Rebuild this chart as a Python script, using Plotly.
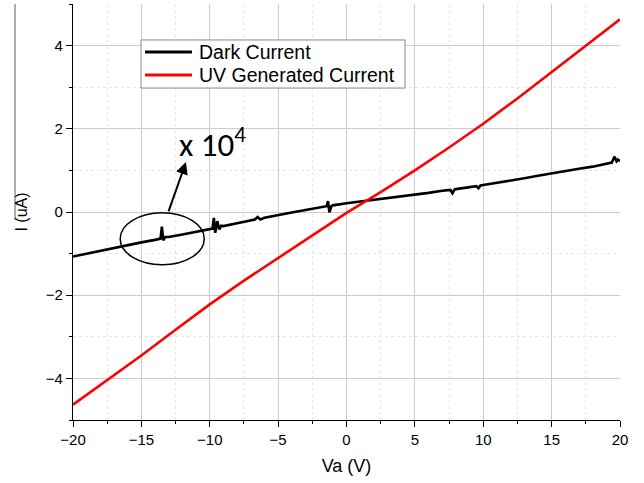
import plotly.graph_objects as go

# Dark current (black) readings, Va in V, I in uA (scaled x1e4)
dark_v = [-20, -19, -18, -17, -16, -15, -14, -13.6, -13.5, -13.4, -13.25, -13, -12, -11, -10,
          -9.8, -9.7, -9.6, -9.45, -9.3, -9.15, -9, -8, -7, -6.7, -6.5, -6.3, -6, -5, -4, -3, -2,
          -1.45, -1.35, -1.25, -1.1, -1, 0, 1, 2, 3, 4, 5, 6, 7, 7.6, 7.75, 7.9, 8, 9, 9.5, 9.65,
          9.8, 10, 11, 12, 13, 14, 15, 16, 17, 18, 19, 19.4, 19.6, 19.75, 19.85, 20]
dark_i = [-1.07, -1.0, -0.94, -0.87, -0.80, -0.73, -0.67, -0.64, -0.35, -0.68, -0.60, -0.60, -0.54,
          -0.47, -0.41, -0.40, -0.14, -0.50, -0.22, -0.42, -0.33, -0.34, -0.27, -0.21, -0.18, -0.12,
          -0.18, -0.14, -0.07, -0.01, 0.05, 0.10, 0.14, 0.26, -0.01, 0.14, 0.16, 0.21, 0.25, 0.29,
          0.33, 0.37, 0.41, 0.46, 0.51, 0.53, 0.45, 0.54, 0.55, 0.60, 0.62, 0.57, 0.64, 0.65, 0.70,
          0.76, 0.81, 0.87, 0.93, 0.98, 1.04, 1.09, 1.15, 1.19, 1.33, 1.22, 1.26, 1.22]

# UV generated current (red)
uv_v = [-20, -17.5, -15, -12.5, -10, -7.5, -5, -2.5, 0, 2.5, 5, 7.5, 10, 12.5, 15, 17.5, 20]
uv_i = [-4.63, -4.04, -3.45, -2.83, -2.22, -1.65, -1.1, -0.56, -0.02, 0.48, 1.0, 1.55, 2.12,
        2.73, 3.36, 3.99, 4.63]

series_names = ["Dark Current", "UV Generated Current"]
series_colors = ["black", "#ff0000"]

x_ticks = [-20, -15, -10, -5, 0, 5, 10, 15, 20]
y_ticks = [-4, -2, 0, 2, 4]

fig = go.Figure()
fig.add_trace(go.Scatter(x=dark_v, y=dark_i, mode="lines", name=series_names[0],
                         line=dict(color=series_colors[0], width=2.6), showlegend=False))
fig.add_trace(go.Scatter(x=uv_v, y=uv_i, mode="lines", name=series_names[1],
                         line=dict(color=series_colors[1], width=2.6), showlegend=False))

axis_common = dict(
    showline=True, linecolor="black", linewidth=1.3,
    ticks="outside", ticklen=6, tickwidth=1.3, tickcolor="black",
    showgrid=True, gridcolor="#cccccc", gridwidth=1,
    zeroline=False, mirror=False,
    tickfont=dict(family="Arial, Liberation Sans", size=15, color="black"),
)

fig.update_xaxes(**axis_common, range=[-20, 20], tickvals=x_ticks,
                 minor=dict(dtick=2.5, tick0=0, ticklen=3, tickwidth=1.3, tickcolor="black",
                            ticks="outside", showgrid=True, gridcolor="#e6e6e6", griddash="dot"),
                 title=dict(text="Va (V)", font=dict(family="Arial, Liberation Sans", size=18,
                                                      color="black"), standoff=12))
fig.update_yaxes(**axis_common, range=[-5, 5], tickvals=y_ticks,
                 minor=dict(dtick=1, tick0=0, ticklen=3, tickwidth=1.3, tickcolor="black",
                            ticks="outside", showgrid=True, gridcolor="#e6e6e6", griddash="dot"),
                 title=dict(text="I (uA)", font=dict(family="Arial, Liberation Sans", size=16,
                                                      color="black"), standoff=14))

# legend box drawn manually (compact, like the original)
fig.add_shape(type="rect", xref="paper", yref="paper", x0=0.1243, x1=0.6069, y0=0.798,
              y1=0.9135, line=dict(color="#888888", width=1), fillcolor="white", layer="above")
row_y = [0.8846, 0.8293]
for name, color, ry in zip(series_names, series_colors, row_y):
    fig.add_shape(type="line", xref="paper", yref="paper", x0=0.1316, x1=0.2175, y0=ry, y1=ry,
                  line=dict(color=color, width=3), layer="above")
    fig.add_annotation(x=0.2267, y=ry, xref="paper", yref="paper", xanchor="left",
                       yanchor="middle", showarrow=False, text=name,
                       font=dict(family="Arial, Liberation Sans", size=19.5, color="black"))

# ellipse around highlighted region
fig.add_shape(type="circle", xref="x", yref="y", x0=-16.55, x1=-10.4, y0=-1.27, y1=-0.02,
              line=dict(color="black", width=1.5))
# arrow
fig.add_annotation(x=-11.74, y=1.2, ax=-13.05, ay=-0.02, xref="x", yref="y", axref="x",
                   ayref="y", showarrow=True, arrowhead=2, arrowsize=1.2, arrowwidth=2,
                   arrowcolor="black", text="")
fig.add_annotation(x=-9.8, y=1.68, xref="x", yref="y", showarrow=False,
                   text="x 10<sup>4</sup>",
                   font=dict(family="Carlito, Liberation Sans", size=33, color="black"))
# left border artifact line
fig.add_shape(type="line", xref="paper", yref="paper", x0=-0.106, x1=-0.106, y0=0.48, y1=1.0,
              line=dict(color="#777777", width=1.2))

fig.update_layout(
    width=644, height=483,
    margin=dict(l=73, r=24, t=4, b=63),
    paper_bgcolor="white", plot_bgcolor="white",
    showlegend=False,
)

fig.write_html("out.html")
